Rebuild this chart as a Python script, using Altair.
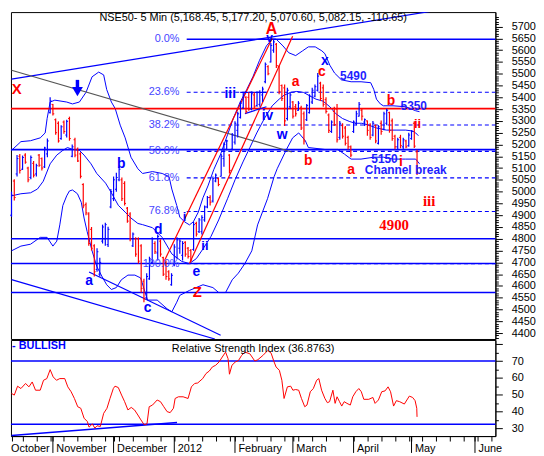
import altair as alt
import pandas as pd

# ---------------- price bars (one per trading day from 11 Oct 2011) ----------------
bar_open = [4900, 5045, 5075, 5150, 5095, 5155, 5100, 5060, 5120, 5075,
            5155, 5140, 5105, 5160, 5335, 5370, 5305, 5290, 5225, 5295,
            5240, 5310, 5150, 5220, 5180, 5160, 5030, 4945, 4905, 4840,
            4770, 4670, 4650, 4790, 4800, 4775, 4935, 4970, 5010, 5050,
            5050, 5035, 4930, 4905, 4770, 4800, 4800, 4770, 4620, 4550,
            4630, 4700, 4780, 4740, 4790, 4720, 4700, 4660, 4605, 4690,
            4720, 4760, 4730, 4785, 4760, 4750, 4755, 4865, 4830, 4830,
            4880, 4935, 4975, 4960, 5045, 5055, 5065, 5140, 5180, 5155,
            5180, 5210, 5260, 5315, 5355, 5400, 5400, 5350, 5410, 5365,
            5370, 5410, 5466, 5530, 5550, 5600, 5625, 5530, 5450, 5440,
            5310, 5360, 5380, 5360, 5345, 5355, 5330, 5305, 5335, 5380,
            5405, 5430, 5460, 5440, 5390, 5325, 5255, 5340, 5350, 5230,
            5280, 5270, 5230, 5190, 5255, 5290, 5320, 5345, 5295, 5300,
            5280, 5240, 5280, 5205, 5290, 5265, 5290, 5335, 5300, 5235,
            5190, 5230, 5190, 5215, 5195, 5225, 5290, 5168.45]
bar_high = [5000, 5052, 5155, 5160, 5153, 5163, 5105, 5153, 5130, 5118,
            5160, 5145, 5190, 5225, 5400, 5372, 5310, 5298, 5282, 5302,
            5305, 5318, 5200, 5228, 5187, 5167, 5036, 4954, 4913, 4850,
            4777, 4760, 4720, 4860, 4868, 4851, 5011, 5064, 5080, 5105,
            5060, 5044, 4935, 4913, 4827, 4806, 4806, 4777, 4630, 4654,
            4724, 4806, 4790, 4818, 4798, 4724, 4708, 4667, 4654, 4777,
            4806, 4798, 4790, 4790, 4765, 4757, 4872, 4872, 4888, 4900,
            4941, 4982, 4985, 5064, 5077, 5060, 5160, 5208, 5220, 5159,
            5249, 5298, 5339, 5384, 5421, 5405, 5421, 5425, 5421, 5425,
            5430, 5445, 5548, 5536, 5630, 5646, 5630, 5536, 5454, 5454,
            5441, 5420, 5384, 5372, 5384, 5364, 5340, 5372, 5413, 5441,
            5454, 5503, 5466, 5454, 5400, 5331, 5302, 5360, 5372, 5300,
            5290, 5278, 5237, 5196, 5302, 5343, 5380, 5351, 5310, 5302,
            5290, 5300, 5285, 5282, 5302, 5339, 5351, 5339, 5310, 5241,
            5228, 5241, 5228, 5220, 5250, 5261, 5298, 5177.20]
bar_low = [4893, 4962, 5064, 5077, 5092, 5118, 5040, 5052, 5060, 5064,
           5105, 5090, 5100, 5146, 5331, 5323, 5241, 5208, 5220, 5245,
           5230, 5216, 5146, 5146, 5126, 5056, 4929, 4900, 4770, 4750,
           4640, 4660, 4640, 4780, 4770, 4765, 4929, 4960, 5000, 5044,
           4960, 4941, 4868, 4790, 4765, 4724, 4695, 4572, 4531, 4545,
           4626, 4695, 4736, 4708, 4724, 4642, 4626, 4622, 4601, 4683,
           4715, 4737, 4708, 4724, 4716, 4700, 4749, 4810, 4825, 4818,
           4872, 4929, 4941, 4954, 5040, 5023, 5064, 5105, 5175, 5077,
           5175, 5200, 5230, 5310, 5351, 5331, 5343, 5345, 5351, 5360,
           5360, 5380, 5460, 5494, 5548, 5589, 5524, 5413, 5384, 5278,
           5302, 5350, 5310, 5319, 5343, 5261, 5200, 5300, 5331, 5372,
           5400, 5425, 5384, 5360, 5331, 5249, 5249, 5278, 5208, 5220,
           5225, 5196, 5179, 5146, 5249, 5282, 5319, 5302, 5278, 5237,
           5220, 5235, 5205, 5200, 5241, 5260, 5282, 5250, 5216, 5180,
           5180, 5184, 5180, 5184, 5190, 5220, 5185, 5070.60]
bar_close = [4985, 4975, 5140, 5090, 5145, 5125, 5050, 5145, 5070, 5110,
             5112, 5100, 5185, 5215, 5385, 5330, 5250, 5215, 5275, 5255,
             5298, 5225, 5190, 5155, 5130, 5065, 4940, 4910, 4780, 4760,
             4660, 4745, 4700, 4850, 4860, 4840, 5000, 5050, 5060, 5095,
             4970, 4950, 4875, 4800, 4820, 4735, 4705, 4590, 4545, 4640,
             4715, 4800, 4745, 4810, 4735, 4650, 4640, 4630, 4645, 4765,
             4795, 4790, 4780, 4735, 4725, 4710, 4860, 4820, 4880, 4890,
             4935, 4975, 4955, 5055, 5070, 5030, 5150, 5200, 5215, 5090,
             5240, 5290, 5330, 5375, 5410, 5340, 5350, 5415, 5360, 5420,
             5420, 5435, 5540, 5500, 5620, 5635, 5535, 5425, 5395, 5300,
             5430, 5410, 5320, 5330, 5375, 5270, 5215, 5365, 5405, 5430,
             5445, 5490, 5395, 5370, 5340, 5260, 5295, 5285, 5220, 5290,
             5235, 5205, 5190, 5155, 5295, 5330, 5370, 5320, 5305, 5260,
             5230, 5290, 5215, 5275, 5255, 5330, 5345, 5260, 5225, 5190,
             5220, 5195, 5220, 5190, 5240, 5255, 5193, 5082.15]

# ---------------- Bollinger style bands ----------------
bb_up_i = [0, 3.4, 6.9, 10.4, 12.2, 12.9, 14, 15.7, 20, 22.1, 24.6, 27, 29.2, 31.6, 33.4,
           34.5, 36.2, 37.6, 39.4, 41.2, 43.3, 45.8, 47.5, 51.1, 54.6, 57.1, 58.1, 59.9,
           61, 62.7, 64.5, 65.9, 67.7, 69.4, 71.2, 73.3, 75.8, 78.3, 80.4, 82.9, 85.3,
           87.5, 89.9, 92.4, 94.5, 95.9, 98.4, 100.5, 103, 105.5, 107.6, 110.1, 112.5,
           113.6, 115.4, 117.1, 119.6, 123.1, 126.7, 130.2, 131.3, 132.3, 133.7, 134.8,
           138.3, 142.9, 146.5, 147.9]
bb_up_p = [5175, 5212, 5216, 5228, 5249, 5310, 5380, 5388, 5380, 5372, 5380, 5421, 5487,
           5507, 5495, 5433, 5380, 5352, 5282, 5228, 5146, 5097, 5077, 5085, 5077, 5064,
           5011, 4941, 4892, 4872, 4859, 4872, 4913, 4974, 5024, 5093, 5159, 5241, 5311,
           5380, 5434, 5487, 5557, 5618, 5647, 5647, 5618, 5589, 5577, 5597, 5614, 5614,
           5597, 5585, 5536, 5503, 5474, 5466, 5466, 5462, 5434, 5392, 5372, 5364, 5364,
           5360, 5343, 5339]
bb_mid_i = [0, 3.4, 6.9, 9.4, 11.5, 14, 16.4, 18.6, 20.3, 22.1, 24.6, 26.3, 28.8, 30.9,
            34.1, 36.2, 38.7, 41.2, 43.3, 45.8, 47.5, 51.1, 54.6, 58.1, 61.7, 64.5, 67,
            69.4, 72.3, 75.1, 78.3, 81.1, 83.9, 86.4, 88.9, 91.7, 94.5, 97, 98.8, 101.2,
            103.4, 105.8, 108.3, 110.4, 112.9, 115.4, 117.5, 120, 122.4, 124.6, 127,
            129.5, 132.3, 135.9, 139.4, 142.9, 145.4, 146.5, 147.5]
bb_mid_p = [4982, 4991, 4995, 5011, 5044, 5118, 5155, 5175, 5187, 5179, 5175, 5155, 5118,
            5077, 5036, 4995, 4942, 4913, 4888, 4865, 4860, 4847, 4806, 4736, 4704, 4695,
            4716, 4757, 4810, 4880, 4970, 5052, 5126, 5187, 5249, 5311, 5364, 5392, 5409,
            5421, 5425, 5421, 5405, 5392, 5384, 5360, 5331, 5310, 5298, 5290, 5290, 5282,
            5270, 5261, 5261, 5261, 5257, 5249, 5237]
bb_low_i = [0, 3.4, 6.9, 10.4, 12.9, 15, 16.4, 17.5, 18.6, 20, 21, 22.1, 23.9, 25.3, 26.3,
            27.4, 29.2, 30.9, 32.7, 34.5, 36.2, 38, 39.8, 42.2, 44.7, 46.8, 49.3, 52.8,
            56.4, 58.1, 59.9, 61, 64.5, 69.4, 73, 75.1, 77.6, 80, 82.2, 84.6, 87.1, 89.2,
            92.8, 95.2, 96.3, 99.5, 101.9, 104.1, 106.5, 107.6, 113.6, 118.2, 120.7,
            123.1, 126.7, 131.3, 134.8, 138.3, 142.9, 146.5, 147.9]
bb_low_p = [4749, 4769, 4777, 4806, 4806, 4769, 4790, 4859, 4941, 4982, 5003, 5007, 4991,
            4954, 4888, 4831, 4749, 4683, 4642, 4605, 4585, 4593, 4626, 4646, 4646, 4634,
            4540, 4540, 4503, 4490, 4531, 4560, 4581, 4605, 4593, 4572, 4572, 4626, 4654,
            4695, 4749, 4859, 4970, 5064, 5097, 5175, 5228, 5249, 5216, 5187, 5179, 5179,
            5159, 5138, 5138, 5146, 5146, 5138, 5138, 5138, 5118]

# ---------------- RSI ----------------
rsi_i = [0, 1.0, 2.2, 3.4, 5.1, 6.3, 7.5, 8.7, 10.4, 11.6, 12.8, 14.0, 15.1, 16.3, 17.5,
         19.3, 20.4, 21.6, 22.8, 24.0, 25.1, 26.3, 27.5, 28.1, 29.3, 30.2, 31.0, 32.2,
         33.4, 34.6, 35.7, 36.9, 37.5, 38.7, 39.9, 41.0, 42.2, 43.4, 44.6, 45.8, 46.9,
         48.1, 49.1, 49.9, 51.1, 52.8, 54.0, 55.2, 56.4, 57.5, 58.7, 59.3, 60.5, 62.2,
         64.0, 65.2, 66.4, 67.5, 69.3, 70.5, 71.7, 72.8, 74.0, 75.2, 76.4, 77.6, 78.5,
         79.0, 79.9, 81.1, 82.3, 83.4, 84.6, 86.4, 88.2, 89.3, 91.1, 92.9, 94.1, 95.2,
         95.9, 97.1, 98.0, 98.8, 100.0, 101.2, 102.0, 103.0, 104.1, 105.1, 106.3, 107.1,
         108.3, 109.4, 110.6, 111.4, 112.4, 113.6, 114.5, 115.3, 116.5, 117.3, 118.0,
         118.9, 119.7, 120.6, 121.6, 122.8, 123.7, 124.8, 125.9, 126.8, 127.7, 129.5,
         131.0, 131.8, 133.0, 134.2, 135.4, 136.5, 137.4, 138.5, 139.5, 140.7, 142.4,
         144.2, 145.4, 146.3, 146.9, 147.0]
rsi_v = [50.8, 49.8, 55.1, 53.7, 56.7, 54.7, 57.6, 52.7, 52.7, 58.6, 59.6, 64.9, 60.6,
         58.6, 59.6, 59.6, 54.7, 51.8, 47.8, 42.9, 42.0, 36.1, 34.1, 30.8, 32.7, 30.2,
         31.6, 31.2, 39.0, 42.0, 47.8, 53.7, 55.1, 54.3, 49.8, 45.9, 41.0, 42.5, 41.0,
         38.0, 35.1, 32.2, 32.7, 42.9, 43.9, 46.9, 45.9, 42.9, 40.0, 39.4, 42.0, 47.8,
         48.8, 48.8, 47.8, 54.7, 56.7, 57.0, 59.6, 62.6, 64.1, 66.5, 67.5, 69.4, 72.4,
         75.3, 71.4, 62.2, 67.5, 69.4, 70.4, 73.3, 75.3, 74.3, 70.0, 70.8, 73.3, 76.3,
         74.7, 69.4, 66.5, 64.5, 58.6, 47.8, 54.7, 55.1, 52.7, 53.1, 52.7, 47.8, 42.9,
         43.9, 51.8, 53.7, 58.6, 59.6, 52.7, 47.8, 45.3, 45.9, 52.7, 44.9, 48.8, 45.9,
         43.3, 45.9, 44.9, 43.9, 48.8, 51.8, 53.7, 51.8, 47.3, 47.3, 48.4, 44.9, 46.9,
         51.8, 52.3, 54.7, 51.8, 43.3, 46.5, 45.9, 44.5, 49.2, 48.4, 46.5, 42.0, 36.88]
rsi_levels = [70, 32.5]
rsi_trend_i = [0, 60]
rsi_trend_v = [25.9, 33.5]

# ---------------- horizontal levels / fibonacci ----------------
blue_levels = [5178, 4800, 4695, 4572]
red_levels = [5352]
fib_pct = [0.0, 23.6, 38.2, 50.0, 61.8, 76.8, 100.0]
fib_hi, fib_lo, fib_start, fib_end = 5646, 4695, 63.5, 175.4

# ---------------- trend lines (index, price) ----------------
tl_name = ["up", "gray", "low1", "low2", "red1", "red2", "w1", "w2"]
tl_i0 = [0, 0, 0, 28.1, 55.3, 64.5, 82.9, 84.6]
tl_p0 = [5477, 5515, 4627, 4659, 4704, 4695, 5421, 5331]
tl_i1 = [175.4, 101.6, 73.7, 75.8, 94.5, 101.9, 92.4, 92.4]
tl_p1 = [5809, 5168, 4375, 4391, 5651, 5659, 5421, 5360]
tl_col = ["#0000ff", "#555555", "#0000ff", "#0000ff", "#ff0000", "#ff0000", "#0000ff", "#0000ff"]

# ---------------- annotations ----------------
wave_txt = ["A", "v", "iii", "iv", "w", "a", "b", "c", "x", "b", "ii", "a", "i", "X",
            "b", "a", "c", "d", "e", "Z", "i", "ii"]
wave_i = [94.2, 93.5, 79.3, 92.8, 98.1, 103.0, 107.6, 112.5, 113.6, 137.6, 147.2, 123.1,
          141.2, 1.9, 39.8, 28.1, 49.3, 53.2, 67.0, 67.3, 62.7, 70.1]
wave_p = [5688, 5651, 5413, 5319, 5241, 5466, 5130, 5507, 5556, 5384, 5286, 5093, 5126,
          5434, 5118, 4622, 4507, 4839, 4659, 4573, 4892, 4769]
wave_col = ["#ff0000", "#0000ff", "#0000ff", "#0000ff", "#0000ff", "#ff0000", "#ff0000",
            "#ff0000", "#0000ff", "#ff0000", "#ff0000", "#ff0000", "#ff0000", "#ff0000",
            "#0000ff", "#0000ff", "#0000ff", "#0000ff", "#0000ff", "#ff0000", "#0000ff",
            "#0000ff"]
wave_size = [16, 12, 14, 14, 14, 14, 14, 14, 14, 14, 13, 14, 14, 15, 14, 14, 14, 14, 14,
             15, 13, 13]
note_txt = ["5490", "5350", "5150", "Channel break"]
note_i = [123.9, 145.8, 135.2, 142.9]
note_p = [5491, 5364, 5138, 5093]
serif_txt = ["4900", "iii"]
serif_i = [138.7, 151.4]
serif_p = [4859, 4962]
arrow_i = [23.9]
arrow_top = [5474]
arrow_head = [5424]
title_txt = "NSE50- 5 Min (5,168.45, 5,177.20, 5,070.60, 5,082.15, -110.65)"
rsi_title = "Relative Strength Index (36.8763)"

# ---------------- calendar for the time axis ----------------
dates = pd.bdate_range("2011-10-11", periods=176)
month_idx = [k for k in range(1, len(dates)) if dates[k].month != dates[k - 1].month]
week_idx = [k for k in range(len(dates)) if dates[k].weekday() == 0]
month_names = {1: "2012", 2: "February", 3: "March", 4: "April", 5: "May", 6: "June",
               11: "November", 12: "December"}
label_map = [(0, "October")] + [(k, month_names[dates[k].month]) for k in month_idx]
label_expr = "".join(f"datum.value == {k} ? '{t}' : " for k, t in label_map) + "''"
x_values = sorted(set([0] + month_idx + week_idx))

# ---------------- chart ----------------
W, H1, H2 = 489, 330, 97
FONT = "Liberation Sans"
xs = alt.Scale(domain=[-0.2, 175.4], nice=False, zero=False)
ps = alt.Scale(domain=[4375, 5761.5], nice=False, zero=False)
rs = alt.Scale(domain=[25.5, 82.5], nice=False, zero=False)

price_axis = alt.Axis(
    orient="right", title=None, grid=False, values=list(range(4380, 5741, 10)),
    labelExpr="datum.value % 50 == 0 && datum.value >= 4400 && datum.value <= 5700 ? datum.label : ''",
    tickSize={"condition": {"test": "datum.value % 50 == 0", "value": 7}, "value": 3},
    labelPadding=9, labelOverlap=False, labelFlush=False, format="d",
    labelFont=FONT, labelFontSize=11, labelColor="#000000",
    tickColor="#000000", domainColor="#000000")
rsi_axis = alt.Axis(
    orient="right", title=None, grid=False, values=list(range(30, 81, 5)),
    labelExpr="datum.value % 10 == 0 && datum.value >= 30 && datum.value <= 70 ? datum.label : ''",
    tickSize={"condition": {"test": "datum.value % 10 == 0", "value": 7}, "value": 3},
    labelPadding=9, labelOverlap=False, labelFlush=False, format="d",
    labelFont=FONT, labelFontSize=11, labelColor="#000000",
    tickColor="#000000", domainColor="#000000")
x_axis = alt.Axis(
    title=None, grid=False, values=x_values, labelExpr=label_expr, tickSize=5,
    labelAlign="left", labelBaseline="top", labelPadding=2,
    labelOffset={"condition": {"test": "datum.value == 0", "value": -1}, "value": 3},
    labelOverlap=False, labelFlush=False, labelFont=FONT, labelFontSize=11,
    labelColor="#000000", tickColor="#000000", domainColor="#000000")


def PX(f="i"):
    return alt.X(f"{f}:Q", scale=xs, axis=None)


def PY(f="p"):
    return alt.Y(f"{f}:Q", scale=ps, axis=price_axis)


bars = pd.DataFrame({"i": range(len(bar_close)), "o": bar_open, "h": bar_high,
                     "l": bar_low, "c": bar_close})
bar_color = alt.condition("datum.c >= datum.o", alt.value("#0000ff"), alt.value("#ff0000"))

hl = alt.Chart(bars).mark_rule(strokeWidth=1.2).encode(
    x=PX(), y=PY("l"), y2="h", color=bar_color)
open_t = alt.Chart(bars).transform_calculate(i0="datum.i - 0.5").mark_rule(strokeWidth=1).encode(
    x=PX("i0"), x2="i", y=PY("o"), color=bar_color)
close_t = alt.Chart(bars).transform_calculate(i1="datum.i + 0.5").mark_rule(strokeWidth=1).encode(
    x=PX("i"), x2="i1", y=PY("c"), color=bar_color)

bands = pd.concat([
    pd.DataFrame({"band": "upper", "i": bb_up_i, "p": bb_up_p}),
    pd.DataFrame({"band": "middle", "i": bb_mid_i, "p": bb_mid_p}),
    pd.DataFrame({"band": "lower", "i": bb_low_i, "p": bb_low_p}),
])
band_lines = alt.Chart(bands).mark_line(color="#0000ff", strokeWidth=1, clip=True).encode(
    x=PX(), y=PY(), detail="band:N")

hlev = pd.DataFrame({"p": blue_levels + red_levels,
                     "col": ["#0000ff"] * len(blue_levels) + ["#ff0000"] * len(red_levels)})
hrules = alt.Chart(hlev).mark_rule(strokeWidth=1.6).encode(
    y=PY(), color=alt.Color("col:N", scale=None))

fib = pd.DataFrame({"pct": fib_pct})
fib["p"] = [fib_hi - v / 100.0 * (fib_hi - fib_lo) for v in fib_pct]
fib["i"] = fib_start
fib["i2"] = fib_end
fib["lab"] = [f"{v:.1f}%" for v in fib_pct]
fib_dash = alt.Chart(fib).transform_filter("datum.pct > 0").mark_rule(
    color="#0000ff", strokeWidth=1.2, strokeDash=[4, 3]).encode(x=PX(), x2="i2", y=PY())
fib_zero = alt.Chart(fib).transform_filter("datum.pct == 0").mark_rule(
    color="#0000ff", strokeWidth=1.6).encode(x=PX(), x2="i2", y=PY())
fib_lab = alt.Chart(fib).transform_calculate(il="datum.i - 2.6").mark_text(
    align="right", baseline="middle", font=FONT, fontSize=11, color="#4646ff").encode(
    x=PX("il"), y=PY(), text="lab:N")

tl_rows = []
for n_, a, b, c, d, col in zip(tl_name, tl_i0, tl_p0, tl_i1, tl_p1, tl_col):
    tl_rows.append({"name": n_, "i": a, "p": b, "col": col, "ord": 0})
    tl_rows.append({"name": n_, "i": c, "p": d, "col": col, "ord": 1})
tls = pd.DataFrame(tl_rows)
trend = alt.Chart(tls).mark_line(strokeWidth=1.2, clip=True).encode(
    x=PX(), y=PY(), detail="name:N", order="ord:Q", color=alt.Color("col:N", scale=None))

waves = pd.DataFrame({"t": wave_txt, "i": wave_i, "p": wave_p, "col": wave_col, "s": wave_size})
wave_text = alt.Chart(waves).mark_text(font=FONT, fontWeight="bold", baseline="middle").encode(
    x=PX(), y=PY(), text="t:N", color=alt.Color("col:N", scale=None),
    size=alt.Size("s:Q", scale=None))
notes = pd.DataFrame({"t": note_txt, "i": note_i, "p": note_p})
note_text = alt.Chart(notes).mark_text(font=FONT, fontWeight="bold", fontSize=12,
                                       color="#1e1eff", baseline="middle").encode(
    x=PX(), y=PY(), text="t:N")
serifs = pd.DataFrame({"t": serif_txt, "i": serif_i, "p": serif_p})
serif_text = alt.Chart(serifs).mark_text(font="Liberation Serif", fontWeight="bold",
                                         fontSize=15, color="#ff0000", baseline="middle").encode(
    x=PX(), y=PY(), text="t:N")
arrows = pd.DataFrame({"i": arrow_i, "p": arrow_top, "h": arrow_head})
arrow_shaft = alt.Chart(arrows).mark_rule(color="#0000ff", strokeWidth=3.5).encode(
    x=PX(), y=PY(), y2="h")
arrow_tip = alt.Chart(arrows).mark_point(shape="triangle-down", filled=True, size=120,
                                         color="#0000ff", opacity=1).encode(x=PX(), y=PY("h"))
ptitle = alt.Chart(pd.DataFrame({"t": [title_txt], "i": [87.6], "p": [5738]})).mark_text(
    font=FONT, fontSize=11, color="#000000", baseline="middle").encode(
    x=PX(), y=PY(), text="t:N")

price = alt.layer(
    band_lines, hrules, fib_dash, fib_zero, trend, hl, open_t, close_t,
    fib_lab, wave_text, note_text, serif_text, arrow_shaft, arrow_tip, ptitle
).properties(width=W, height=H1)

# ---- RSI panel ----
def RX(f="i"):
    return alt.X(f"{f}:Q", scale=xs, axis=x_axis)


def RY(f="v"):
    return alt.Y(f"{f}:Q", scale=rs, axis=rsi_axis)


rsi_df = pd.DataFrame({"i": rsi_i, "v": rsi_v})
rsi_line = alt.Chart(rsi_df).mark_line(color="#ff0000", strokeWidth=1).encode(x=RX(), y=RY())
rsi_rules = alt.Chart(pd.DataFrame({"v": rsi_levels})).mark_rule(
    color="#0000ff", strokeWidth=1.6).encode(y=RY())
rsi_trend = alt.Chart(pd.DataFrame({"i": rsi_trend_i, "v": rsi_trend_v})).mark_line(
    color="#0000ff", strokeWidth=1.5).encode(x=RX(), y=RY())
rsi_t = alt.Chart(pd.DataFrame({"t": [rsi_title], "i": [87.6], "v": [77.2]})).mark_text(
    font=FONT, fontSize=11, color="#000000", baseline="middle").encode(
    x=RX(), y=RY(), text="t:N")
bull_t = alt.Chart(pd.DataFrame({"t": ["- BULLISH"], "i": [0.2], "v": [78.8]})).mark_text(
    font=FONT, fontSize=11, fontWeight="bold", color="#0000ff", align="left",
    baseline="middle").encode(x=RX(), y=RY(), text="t:N")
# month separators hanging below the time axis
month_sep = alt.Chart(pd.DataFrame({"i": month_idx})).mark_rule(
    color="#000000", strokeWidth=1).encode(
    x=RX(), y=alt.value(H2), y2=alt.value(H2 + 17))

rsi = alt.layer(rsi_rules, rsi_trend, rsi_line, rsi_t, bull_t, month_sep).properties(
    width=W, height=H2)

chart = alt.vconcat(price, rsi, spacing=1, bounds="flush").properties(
    padding={"left": 0, "top": 0, "right": 0, "bottom": 0},
    background="#ffffff"
).configure_view(stroke="#000000", strokeWidth=1)

chart.save("out.html", embed_options={"renderer": "svg", "actions": False})
